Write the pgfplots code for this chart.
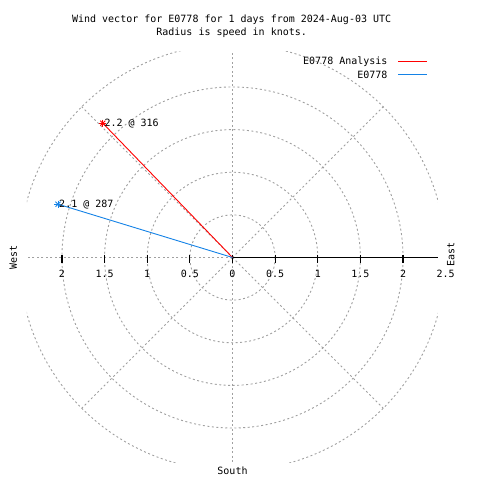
\documentclass[border=0pt]{standalone}
\usepackage{pgfplots}
\pgfplotsset{compat=1.18}
\usepackage{fontspec}
\setmainfont{DejaVu Sans Mono}
\definecolor{gridgray}{RGB}{160,160,160}
\definecolor{vred}{RGB}{255,0,0}
\definecolor{vblue}{RGB}{20,130,230}
\begin{document}
\begin{tikzpicture}[font=\fontsize{10}{13}\selectfont]
\begin{axis}[scale only axis, width=411pt, height=411pt,
  xmin=-2.41, xmax=2.41, ymin=-2.41, ymax=2.41,
  axis lines=none, ticks=none, clip mode=individual]
% grid (clipped to plot box)
\begin{scope}
\clip (rel axis cs:0,0) rectangle (rel axis cs:1,1);
\begin{scope}[gridgray, line width=0.9pt, dash pattern=on 2pt off 2.5pt]
\draw (axis cs:0,0) circle[radius=42.63pt];
\draw (axis cs:0,0) circle[radius=85.27pt];
\draw (axis cs:0,0) circle[radius=127.9pt];
\draw (axis cs:0,0) circle[radius=170.54pt];
\draw (axis cs:0,0) circle[radius=213.17pt];
\draw (axis cs:0,0) -- (axis cs:1.768,1.768);
\draw (axis cs:0,0) -- (axis cs:0,2.5);
\draw (axis cs:0,0) -- (axis cs:-1.768,1.768);
\draw (axis cs:0,0) -- (axis cs:-2.5,0);
\draw (axis cs:0,0) -- (axis cs:-1.768,-1.768);
\draw (axis cs:0,0) -- (axis cs:0,-2.5);
\draw (axis cs:0,0) -- (axis cs:1.768,-1.768);
\end{scope}
\end{scope}
% radial axis with ticks
\addplot[black, line width=1pt, forget plot] coordinates {(0,0) (2.41,0)};
\addplot[black, line width=1.2pt, forget plot] coordinates {(-2,0.035) (-2,-0.06)};
\addplot[black, line width=1.2pt, forget plot] coordinates {(-1.5,0.035) (-1.5,-0.06)};
\addplot[black, line width=1.2pt, forget plot] coordinates {(-1,0.035) (-1,-0.06)};
\addplot[black, line width=1.2pt, forget plot] coordinates {(-0.5,0.035) (-0.5,-0.06)};
\addplot[black, line width=1.2pt, forget plot] coordinates {(0,0.035) (0,-0.06)};
\addplot[black, line width=1.2pt, forget plot] coordinates {(0.5,0.035) (0.5,-0.06)};
\addplot[black, line width=1.2pt, forget plot] coordinates {(1,0.035) (1,-0.06)};
\addplot[black, line width=1.2pt, forget plot] coordinates {(1.5,0.035) (1.5,-0.06)};
\addplot[black, line width=1.2pt, forget plot] coordinates {(2,0.035) (2,-0.06)};
% tick labels
\node at (axis cs:-2,-0.194) {2};
\node at (axis cs:-1.5,-0.194) {1.5};
\node at (axis cs:-1,-0.194) {1};
\node at (axis cs:-0.5,-0.194) {0.5};
\node at (axis cs:0,-0.194) {0};
\node at (axis cs:0.5,-0.194) {0.5};
\node at (axis cs:1,-0.194) {1};
\node at (axis cs:1.5,-0.194) {1.5};
\node at (axis cs:2,-0.194) {2};
\node at (axis cs:2.5,-0.194) {2.5};
% data vectors (angle in degrees, radius in knots)
\addplot[vred, line width=0.9pt, data cs=polar] coordinates {(0,0) (134,2.19)};
\addplot[vred, only marks, mark=+, mark size=3.5pt, mark options={line width=0.9pt}, data cs=polar] coordinates {(134,2.19)};
\addplot[vred, only marks, mark=x, mark size=3.5pt, mark options={line width=0.9pt}, data cs=polar] coordinates {(134,2.19)};
\addplot[vblue, line width=0.9pt, data cs=polar] coordinates {(0,0) (163,2.14)};
\addplot[vblue, only marks, mark=+, mark size=3.5pt, mark options={line width=0.9pt}, data cs=polar] coordinates {(163,2.14)};
\addplot[vblue, only marks, mark=x, mark size=3.5pt, mark options={line width=0.9pt}, data cs=polar] coordinates {(163,2.14)};
\node[anchor=west, inner sep=1.5pt] at (axis cs:-1.521,1.575) {2.2 @ 316};
\node[anchor=west, inner sep=1pt] at (axis cs:-2.046,0.626) {2.1 @ 287};
% compass labels
\node[rotate=90] at (axis cs:-2.57,0) {West};
\node[rotate=90] at (axis cs:2.56,0.03) {East};
\node at (axis cs:0,-2.504) {South};
% title
\node[align=center] at (axis cs:-0.01,2.71) {Wind vector for E0778 for 1 days from 2024-Aug-03 UTC\\Radius is speed in knots.};
% legend texts
\node[anchor=east] at (axis cs:1.859,2.293) {E0778 Analysis};
\node[anchor=east] at (axis cs:1.859,2.140) {E0778};
\end{axis}
% legend samples
\draw[vred, line width=1pt] ([shift={(371pt,401pt)}]current axis.south west) -- ++(29pt,0pt);
\draw[vblue, line width=1pt] ([shift={(371pt,388pt)}]current axis.south west) -- ++(29pt,0pt);
\pgfresetboundingbox
\path (current axis.south west) ++(-27pt,-17pt) rectangle ++(480pt,480pt);
\end{tikzpicture}
\end{document}
